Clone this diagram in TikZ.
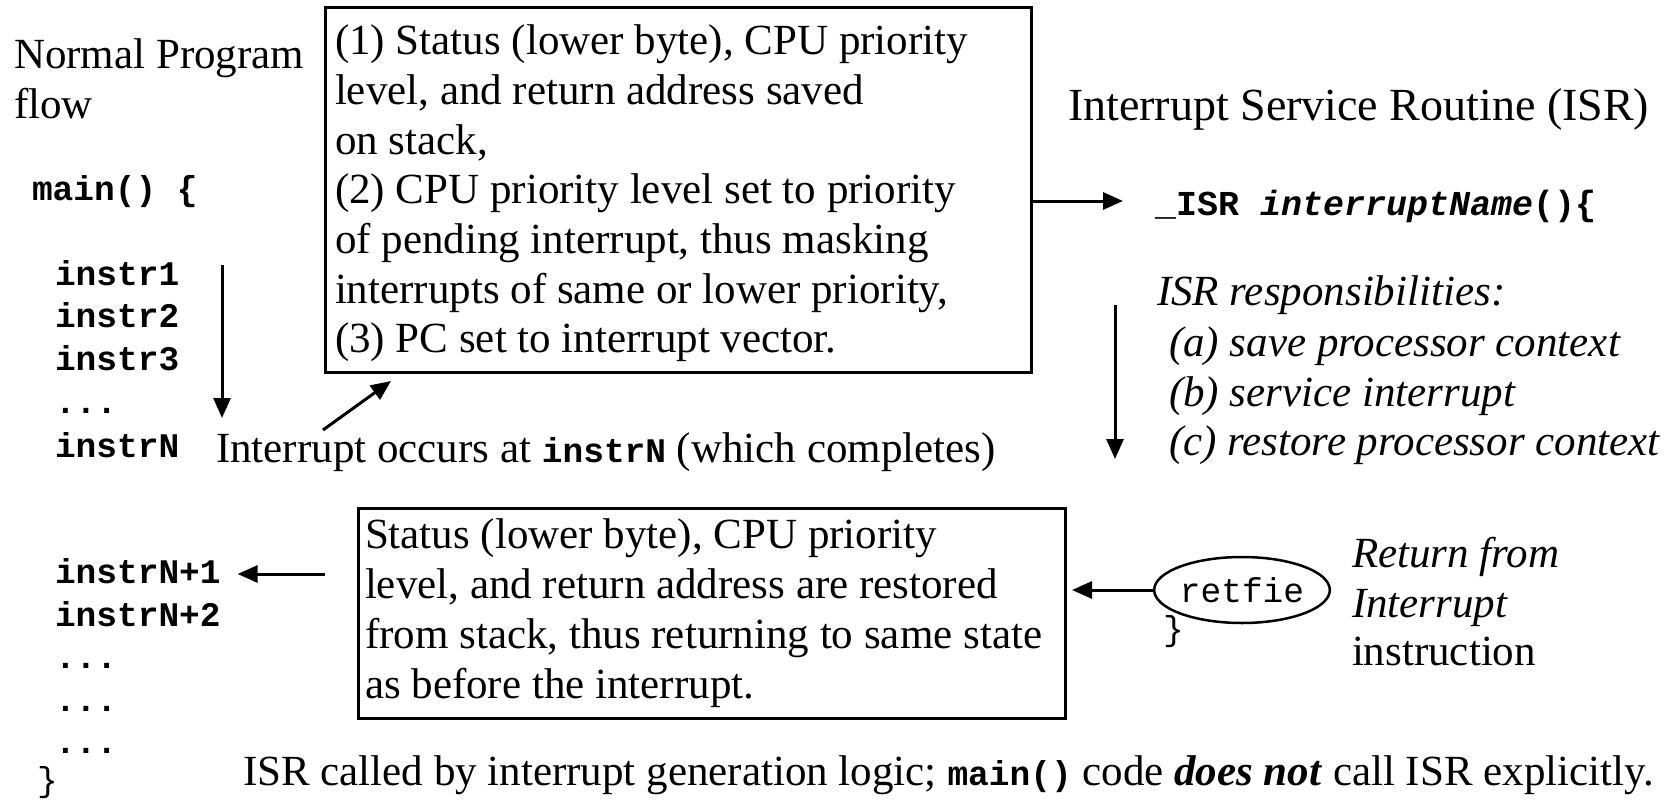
\documentclass[tikz,border=0pt]{standalone}
\usepackage{fontspec}
\setmainfont{Liberation Serif}
\newfontfamily\monofnt{Liberation Mono}
\usetikzlibrary{arrows.meta,shapes.geometric,calc}
\newcommand\tfont{\fontsize{43}{50}\selectfont}
\newcommand\cfont{\monofnt\bfseries\fontsize{34.5}{40}\selectfont}
\newcommand\rfont{\monofnt\fontsize{34.5}{40}\selectfont}
\begin{document}
\begin{tikzpicture}[x=1pt,y=-1pt,
  txt/.style={anchor=base west,inner sep=0pt,outer sep=0pt,font=\tfont},
  code/.style={anchor=base west,inner sep=0pt,outer sep=0pt,font=\cfont},
  boxst/.style={draw,line width=3pt,inner sep=0pt,outer sep=0pt,anchor=north west},
  arr/.style={line width=3pt,-{Triangle[width=17pt,length=20pt]}}]
\useasboundingbox (0,0) rectangle (1670,800);
\fill[white] (0,0) rectangle (1670,800);

% left column
\node[txt] (np1) at (14,68) {Normal Program};
\node[txt] (np2) at (14,118) {flow};
\node[code] (mainf) at (32,200) {main() \{};
\node[code] (i1) at (55,285) {instr1};
\node[code] (i2) at (55,327.5) {instr2};
\node[code] (i3) at (55,370) {instr3};
\node[code] (i4) at (55,413) {...};
\node[code] (iN) at (55,457) {instrN};
\coordinate (d1s) at (222,265);
\coordinate (d1e) at (222,418);
\draw[arr] (d1s) -- (d1e);

\node[txt] (occ) at (216,462) {Interrupt occurs at {\cfont instrN} (which completes)};

% top box
\node[boxst,minimum width=706pt,minimum height=364pt] (b1) at (325,8) {};
\foreach \t [count=\i] in {{(1) Status (lower byte), CPU priority},{level, and return address saved},{on stack,},{(2) CPU priority level set to priority},{of pending interrupt, thus masking},{interrupts of same or lower priority,},{(3) PC set to interrupt vector.}}
  \node[txt] (b1l\i) at (335,{55+49.6*(\i-1)}) {\t};

\coordinate (dgs) at (323,430);
\coordinate (dge) at (391,381);
\draw[arr] (dgs) -- (dge);

% ISR side
\node[txt,font=\fontsize{46}{52}\selectfont] (isrt) at (1068,120) {Interrupt Service Routine (ISR)};
\node[code,font=\monofnt\bfseries\fontsize{35}{40}\selectfont] (isrn) at (1155,215) {\_ISR \textit{interruptName}()\{};
\coordinate (a2) at (1123,201);
\draw[arr] (b1.east |- a2) -- (a2);

\node[txt] (resp) at (1157,305) {\textit{ISR responsibilities:}};
\node[txt] (ra) at (1169,356) {\textit{(a) save processor context}};
\node[txt] (rb) at (1169,406) {\textit{(b) service interrupt}};
\node[txt] (rc) at (1169,455) {\textit{(c) restore processor context}};
\coordinate (d2s) at (1115,305);
\coordinate (d2e) at (1115,459);
\draw[arr] (d2s) -- (d2e);

% bottom box
\node[boxst,minimum width=707pt,minimum height=210pt] (b2) at (358,508) {};
\foreach \t [count=\i] in {{Status (lower byte), CPU priority},{level, and return address are restored},{from stack, thus returning to same state},{as before the interrupt.}}
  \node[txt] (b2l\i) at (365,{548+50*(\i-1)}) {\t};

\node[draw,ellipse,line width=2.5pt,minimum width=162pt,minimum height=66pt,inner sep=0pt,outer sep=0pt,font=\rfont] (ret) at (1242,590) {retfie};
\node[anchor=base west,inner sep=0pt,font=\rfont] (rbr) at (1163,640) {\}};
\draw[arr,shorten >=7pt] (ret.west) -- (ret.west -| b2.east);

\node[txt] (rf1) at (1352,567) {\textit{Return from}};
\node[txt] (rf2) at (1352,617) {\textit{Interrupt}};
\node[txt] (rf3) at (1352,665) {instruction};

% bottom-left code
\node[code] (n1) at (55,583) {instrN+1};
\node[code] (n2) at (55,626) {instrN+2};
\node[code] (n3) at (55,668) {...};
\node[code] (n4) at (55,711) {...};
\node[code] (n5) at (55,753) {...};
\node[anchor=base west,inner sep=0pt,font=\rfont] (n6) at (37,791) {\}};
\coordinate (c1) at (325,574);
\draw[arr,shorten >=17pt] (c1) -- (c1 -| n1.east);

\node[txt] (bot) at (243,785) {ISR called by interrupt generation logic; {\cfont main()} code \textbf{\textit{does not}} call ISR explicitly.};
\end{tikzpicture}
\end{document}
